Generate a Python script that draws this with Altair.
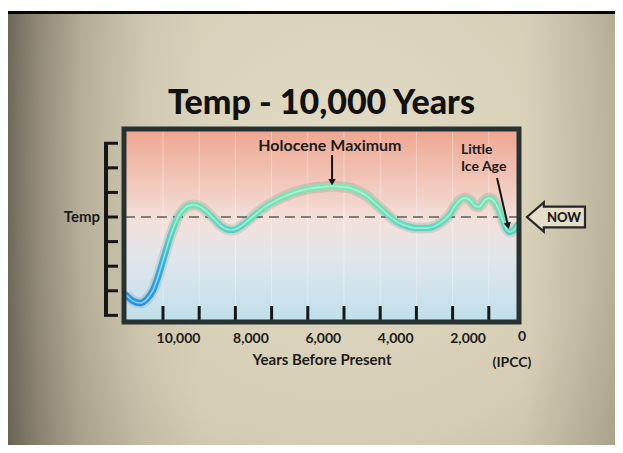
import altair as alt
import pandas as pd

# ---- data ----
years = [11020, 10830, 10635, 10440, 10275, 10140, 10030, 9915, 9805, 9695,
         9585, 9450, 9310, 9115, 8925, 8755, 8590, 8425, 8260, 8095,
         7930, 7760, 7595, 7405, 7180, 6960, 6685, 6410, 6135, 5855,
         5580, 5330, 5055, 4835, 4615, 4365, 4090, 3810, 3535, 3260,
         2985, 2705, 2485, 2265, 2070, 1935, 1795, 1655, 1520, 1380,
         1270, 1135, 995, 855, 745, 635, 525, 415, 305, 220]
temps = [-3.17, -3.41, -3.50, -3.33, -2.97, -2.44, -1.91, -1.34, -0.81, -0.37,
         0.0, 0.28, 0.45, 0.49, 0.37, 0.16, -0.08, -0.33, -0.49, -0.53,
         -0.45, -0.28, -0.08, 0.16, 0.41, 0.61, 0.81, 0.98, 1.10, 1.18,
         1.22, 1.26, 1.22, 1.18, 1.06, 0.85, 0.49, 0.12, -0.20, -0.37,
         -0.45, -0.45, -0.37, -0.16, 0.12, 0.45, 0.69, 0.77, 0.69, 0.45,
         0.41, 0.65, 0.77, 0.65, 0.37, -0.04, -0.45, -0.61, -0.53, -0.33]
tick_years = [1000, 2000, 3000, 4000, 5000, 6000, 7000, 8000, 9000, 10000]
label_years = [2000, 4000, 6000, 8000, 10000]
temp_ticks = [-4, -3, -2, -1, 0, 1, 2, 3]
now_level = [0]

holo_text = ["Holocene Maximum"]
holo_year = [5390]
holo_temp = [2.89]
lia_text = ["Little", "Ice Age"]
lia_year = [1770, 1770]
lia_temp = [2.72, 2.03]

arrow_year = [5330, 773]
arrow_year2 = [5330, 470]
arrow_temp = [2.52, 1.585]
arrow_temp2 = [1.42, -0.36]

W, H = 395, 193
FONT = "Lato"
INK = "#1c1c1c"

curve = pd.DataFrame({"year": years, "temp": temps})
ticks = pd.DataFrame({"year": tick_years})
tt = pd.DataFrame({"t": temp_ticks})
nowdf = pd.DataFrame({"t": now_level})
holo = pd.DataFrame({"year": holo_year, "temp": holo_temp, "label": holo_text})
lia = pd.DataFrame({"year": lia_year, "temp": lia_temp, "label": lia_text})
arr = pd.DataFrame({"year": arrow_year, "year2": arrow_year2,
                    "temp": arrow_temp, "temp2": arrow_temp2})
one = pd.DataFrame({"a": [0]})
zero = pd.DataFrame({"year": [0]})

xs = alt.Scale(domain=[166, 11077], reverse=True)
ys = alt.Scale(domain=[-4.27, 3.58])


def stops(pairs):
    return [alt.GradientStop(color=c, offset=o) for o, c in pairs]


bg = alt.Chart(one).mark_rect(
    fill=alt.RadialGradient(gradient="radial", x1=0.55, y1=0.4, r1=0.0,
                            x2=0.55, y2=0.4, r2=0.9,
                            stops=stops([(0, "#e2dcc6"), (0.5, "#d5ceb4"),
                                         (0.8, "#bcb59b"), (1, "#a39d85")]))
).encode(x=alt.value(-116), x2=alt.value(491), y=alt.value(-115), y2=alt.value(316))

shade = alt.Chart(one).mark_rect(
    fill=alt.LinearGradient(gradient="linear", x1=0, x2=1, y1=0, y2=0,
                            stops=stops([(0, "rgba(35,33,27,0.55)"),
                                         (0.05, "rgba(35,33,27,0.36)"),
                                         (0.12, "rgba(35,33,27,0.18)"),
                                         (0.22, "rgba(35,33,27,0.05)"),
                                         (0.32, "rgba(35,33,27,0)"),
                                         (0.85, "rgba(35,33,27,0)"),
                                         (1, "rgba(35,33,27,0.16)")]))
).encode(x=alt.value(-116), x2=alt.value(491), y=alt.value(-115), y2=alt.value(316))

strip = alt.Chart(one).mark_rect(color="#050505").encode(
    x=alt.value(-116), x2=alt.value(491), y=alt.value(-118), y2=alt.value(-115))

box = alt.Chart(one).mark_rect(
    fill=alt.LinearGradient(gradient="linear", x1=0, x2=0, y1=0, y2=1,
                            stops=stops([(0, "#eea690"), (0.25, "#f1c4b6"),
                                         (0.47, "#f3e0db"), (0.65, "#e3e6ea"),
                                         (1, "#bfe0ea")]))
).encode(x=alt.value(0), x2=alt.value(W), y=alt.value(0), y2=alt.value(H))

grid = alt.Chart(ticks).mark_rule(color="#ffffff", opacity=0.35, strokeWidth=1).encode(
    x=alt.X("year:Q", scale=xs), y=alt.value(0), y2=alt.value(H))

dash = alt.Chart(nowdf).mark_rule(color="#857c7a", strokeWidth=2.2, strokeDash=[10, 6]).encode(
    y=alt.Y("t:Q", scale=ys, axis=None))

shadow = alt.Chart(curve).mark_line(color="#1d4a4a", strokeWidth=11, opacity=0.12,
                                    interpolate="monotone").encode(
    x=alt.X("year:Q", scale=xs), y=alt.Y("temp:Q", scale=ys, axis=None))

main = alt.Chart(curve).mark_line(
    strokeWidth=6.5, interpolate="monotone", strokeCap="round",
    stroke=alt.LinearGradient(gradient="linear", x1=0, x2=0, y1=0, y2=1,
                              stops=stops([(0, "#84e4b2"), (0.3, "#64dcba"),
                                           (0.45, "#4ccdc6"), (0.65, "#34b2dc"),
                                           (0.85, "#2a9ee6"), (1, "#2494e8")]))
).encode(
    x=alt.X("year:Q", scale=xs,
            axis=alt.Axis(values=label_years, format=",d", ticks=False, domain=False,
                          grid=False, labelFont=FONT, labelFontWeight="bold",
                          labelFontSize=14, labelColor=INK, labelPadding=9,
                          labelFlush=False, labelOverlap=False, labelOffset=15,
                          title="Years Before Present", titleFont=FONT,
                          titleFontWeight="bold", titleFontSize=15, titleColor=INK,
                          titlePadding=7, zindex=2)),
    y=alt.Y("temp:Q", scale=ys, axis=None))

hilite = alt.Chart(curve).mark_line(color="#d8fbe8", strokeWidth=1.6, opacity=0.55,
                                    interpolate="monotone").encode(
    x=alt.X("year:Q", scale=xs), y=alt.Y("temp:Q", scale=ys, axis=None))

inticks = alt.Chart(ticks).mark_rule(color="#161a1a", strokeWidth=3).encode(
    x=alt.X("year:Q", scale=xs), y=alt.value(H - 16), y2=alt.value(H))

border = alt.Chart(one).mark_rect(fillOpacity=0, stroke="#283232", strokeWidth=5).encode(
    x=alt.value(0), x2=alt.value(W), y=alt.value(0), y2=alt.value(H))

ybar = alt.Chart(pd.DataFrame({"t": [3], "t2": [-4]})).mark_rule(
    color="#161616", strokeWidth=4).encode(
    x=alt.value(-18), y=alt.Y("t:Q", scale=ys, axis=None), y2="t2:Q")

yticks = alt.Chart(tt).mark_rule(color="#161616", strokeWidth=3).encode(
    x=alt.value(-20), x2=alt.value(-6), y=alt.Y("t:Q", scale=ys, axis=None))

ylab = alt.Chart(nowdf).mark_text(text="Temp", font=FONT, fontWeight="bold", fontSize=15,
                                  color=INK, align="right", baseline="middle").encode(
    x=alt.value(-24), y=alt.Y("t:Q", scale=ys, axis=None))

title = alt.Chart(one).mark_text(text="Temp - 10,000 Years", font=FONT, fontWeight=900,
                                 fontSize=34, color="#111111", align="center",
                                 baseline="alphabetic").encode(
    x=alt.value(W / 2), y=alt.value(-15))

holo_t = alt.Chart(holo).mark_text(font=FONT, fontWeight="bold", color=INK, fontSize=16,
                                   align="center", baseline="middle").encode(
    x=alt.X("year:Q", scale=xs), y=alt.Y("temp:Q", scale=ys, axis=None),
    text="label:N")

lia_t = alt.Chart(lia).mark_text(font=FONT, fontWeight="bold", color=INK, fontSize=14,
                                 align="left", baseline="middle").encode(
    x=alt.X("year:Q", scale=xs), y=alt.Y("temp:Q", scale=ys, axis=None),
    text="label:N")

arrows = alt.Chart(arr).mark_rule(color="#141414", strokeWidth=2).encode(
    x=alt.X("year:Q", scale=xs), x2="year2:Q",
    y=alt.Y("temp:Q", scale=ys, axis=None), y2="temp2:Q")

head1 = alt.Chart(arr.iloc[[0]]).mark_point(shape="triangle-down", filled=True,
                                            color="#141414", size=55, opacity=1).encode(
    x=alt.X("year2:Q", scale=xs), y=alt.Y("temp2:Q", scale=ys, axis=None))
head2 = alt.Chart(arr.iloc[[1]]).mark_point(shape="triangle-down", filled=True, angle=347,
                                            color="#141414", size=55, opacity=1).encode(
    x=alt.X("year2:Q", scale=xs), y=alt.Y("temp2:Q", scale=ys, axis=None))

zero_lab = alt.Chart(zero).mark_text(
    text="0", font=FONT, fontWeight="bold", fontSize=14, color=INK,
    align="center", baseline="middle", dx=-3).encode(
    x=alt.X("year:Q", scale=xs), y=alt.value(H + 15))

ipcc = alt.Chart(zero).mark_text(
    text="(IPCC)", font=FONT, fontWeight="bold", fontSize=14, color=INK,
    align="center", baseline="middle", dx=-13).encode(
    x=alt.X("year:Q", scale=xs), y=alt.value(H + 41))

now_shape = ("M -1 0 L -0.42 -0.5 L -0.42 -0.36 L 1 -0.36 L 1 0.36 "
             "L -0.42 0.36 L -0.42 0.5 Z")
nowbox = alt.Chart(nowdf).mark_point(shape=now_shape, filled=True, fill="#e6dfc8",
                                     stroke="#262626", strokeWidth=2.2, size=3364,
                                     opacity=1).encode(
    x=alt.value(432), y=alt.Y("t:Q", scale=ys, axis=None))

nowtxt = alt.Chart(nowdf).mark_text(text="NOW", font=FONT, fontWeight=900, fontSize=13,
                                    color=INK, align="center", baseline="middle", dy=1).encode(
    x=alt.value(440), y=alt.Y("t:Q", scale=ys, axis=None))

chart = alt.layer(
    bg, shade, strip, box, grid, dash, shadow, main, hilite, inticks, border,
    ybar, yticks, ylab, title, holo_t, lia_t, arrows, head1, head2, zero_lab, ipcc,
    nowbox, nowtxt
).properties(
    width=W, height=H,
    autosize=alt.AutoSizeParams(type="none"),
    padding={"left": 116, "top": 121, "right": 96, "bottom": 123},
).configure_view(stroke=None)

chart.save("out.html", embed_options={"renderer": "svg", "actions": False})
